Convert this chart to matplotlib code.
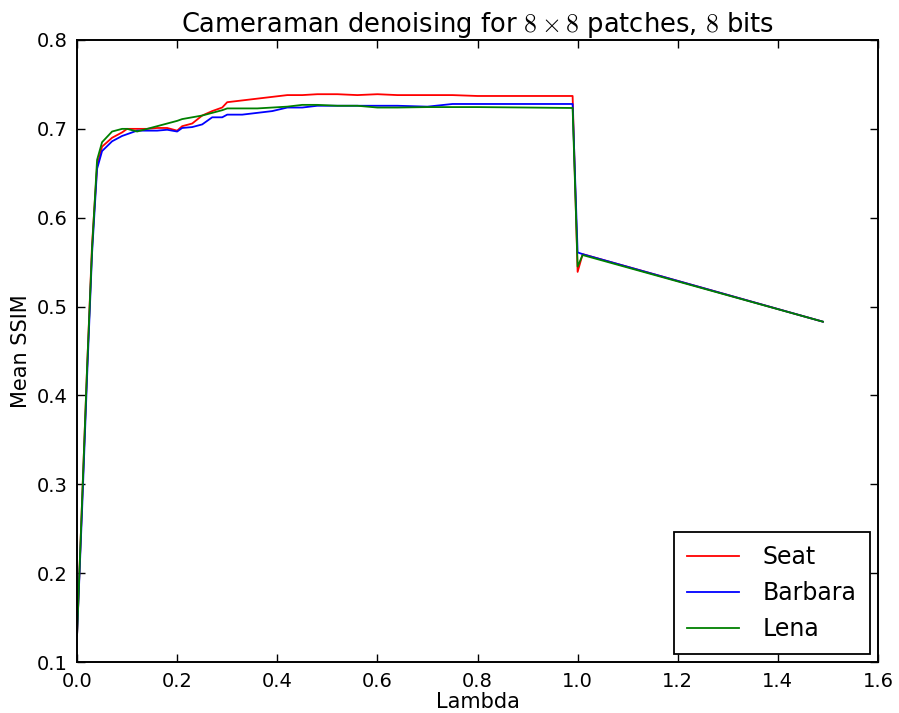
import matplotlib
matplotlib.use("Agg")
import matplotlib.pyplot as plt

# regularisation weight
lambdas = [
    0.00, 0.01, 0.02, 0.03, 0.04, 0.05, 0.07, 0.09, 0.10, 0.12,
    0.14, 0.16, 0.18, 0.20, 0.21, 0.23, 0.25, 0.27, 0.29, 0.30,
    0.33, 0.36, 0.39, 0.42, 0.45, 0.48, 0.52, 0.56, 0.60, 0.64,
    0.70, 0.75, 0.80, 0.90, 0.99, 1.00, 1.01, 1.49,
]

ssim_seat = [
    0.130, 0.280, 0.430, 0.570, 0.658, 0.680, 0.690, 0.696, 0.700, 0.700,
    0.700, 0.701, 0.701, 0.698, 0.703, 0.706, 0.715, 0.720, 0.724, 0.730,
    0.732, 0.734, 0.736, 0.738, 0.738, 0.739, 0.739, 0.738, 0.739, 0.738,
    0.738, 0.738, 0.737, 0.737, 0.737, 0.539, 0.559, 0.483,
]

ssim_barbara = [
    0.130, 0.270, 0.420, 0.560, 0.655, 0.675, 0.686, 0.692, 0.694, 0.698,
    0.698, 0.698, 0.699, 0.697, 0.701, 0.702, 0.705, 0.713, 0.713, 0.716,
    0.716, 0.718, 0.720, 0.724, 0.724, 0.726, 0.726, 0.726, 0.726, 0.726,
    0.725, 0.728, 0.728, 0.728, 0.728, 0.561, 0.559, 0.483,
]

ssim_lena = [
    0.130, 0.280, 0.430, 0.565, 0.665, 0.685, 0.697, 0.700, 0.700, 0.697,
    0.700, 0.703, 0.706, 0.709, 0.711, 0.713, 0.715, 0.718, 0.721, 0.723,
    0.723, 0.723, 0.724, 0.725, 0.727, 0.727, 0.726, 0.726, 0.724, 0.724,
    0.7245, 0.7245, 0.7245, 0.724, 0.7235, 0.545, 0.558, 0.483,
]

plt.rcParams["mathtext.fontset"] = "cm"

fig = plt.figure(figsize=(8.99, 7.13), dpi=100)
ax = fig.add_axes([0.0857, 0.0715, 0.8909, 0.8724])

ax.plot(lambdas, ssim_seat, color="#ff0000", linewidth=1.3, label="Seat")
ax.plot(lambdas, ssim_barbara, color="#0000ff", linewidth=1.3, label="Barbara")
ax.plot(lambdas, ssim_lena, color="#008000", linewidth=1.3, label="Lena")

ax.set_xlim(0, 1.6)
ax.set_ylim(0.1, 0.8)
ax.set_xticks([0.0, 0.2, 0.4, 0.6, 0.8, 1.0, 1.2, 1.4, 1.6])
ax.set_yticks([0.1, 0.2, 0.3, 0.4, 0.5, 0.6, 0.7, 0.8])
ax.tick_params(direction="in", length=6, width=1, labelsize=14,
               top=True, right=True, pad=7)
for spine in ax.spines.values():
    spine.set_linewidth(1.4)

ax.set_xlabel("Lambda", fontsize=15, labelpad=1)
ax.set_ylabel("Mean SSIM", fontsize=15, labelpad=4)
ax.set_title(r"Cameraman denoising for $8\times8$ patches, $8$ bits",
             fontsize=18.5, pad=6)

leg = ax.legend(loc="lower right", fontsize=17, fancybox=False,
                framealpha=1, edgecolor="black", borderaxespad=0.35,
                borderpad=0.55, handlelength=2.2, handletextpad=1.0,
                labelspacing=0.5)
leg.get_frame().set_linewidth(1.3)

fig.savefig("out.png", dpi=100)
